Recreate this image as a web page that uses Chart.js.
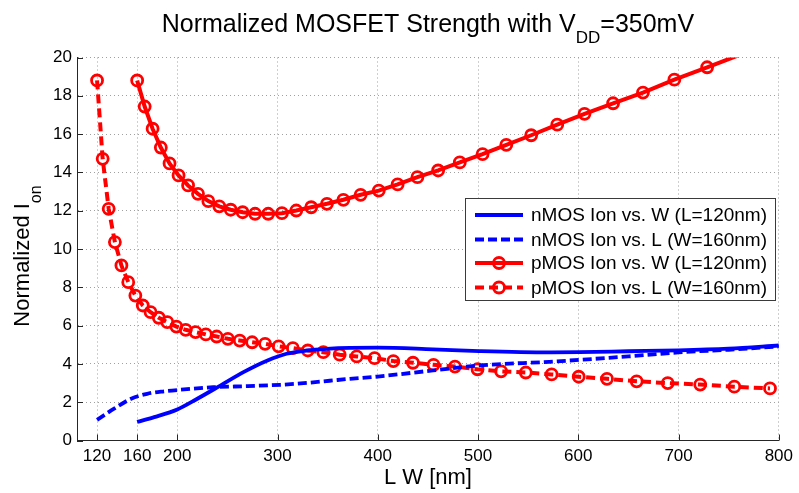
<!DOCTYPE html>
<html><head><meta charset="utf-8">
<script src="https://cdn.jsdelivr.net/npm/chart.js@4/dist/chart.umd.min.js"></script>
<style>html,body{margin:0;padding:0;background:#fff;overflow:hidden}#wrap{width:799px;height:493px;position:relative}</style>
</head><body><div id="wrap"><canvas id="c"></canvas></div>
<script>
// ---- data ----
const xTickValues = [120, 160, 200, 300, 400, 500, 600, 700, 800];
const yRange = [0, 20];

// pMOS Ion vs. W (L=120nm)
const pmosW_x = [160, 167.5, 175.4, 183.6, 192.3, 201.3, 210.8, 220.7, 231.0, 241.9, 253.3, 265.2, 277.6, 290.7, 304.4, 318.7, 333.6, 349.3, 365.7, 382.9, 401.0, 419.8, 439.5, 460.2, 481.8, 504.5, 528.2, 553.0, 579.0, 606.2, 634.7, 664.5, 695.8, 728.5, 762.7, 798.6];
const pmosW_y = [18.80, 17.44, 16.28, 15.30, 14.47, 13.84, 13.32, 12.88, 12.50, 12.23, 12.05, 11.92, 11.84, 11.84, 11.87, 12.01, 12.18, 12.36, 12.57, 12.83, 13.05, 13.37, 13.75, 14.10, 14.52, 14.95, 15.44, 15.94, 16.49, 17.06, 17.61, 18.17, 18.84, 19.49, 20.17, 20.88];

// pMOS Ion vs. L (W=160nm)
const pmosL_x = [120, 125.6, 131.6, 137.8, 144.3, 151.1, 158.2, 165.6, 173.4, 181.6, 190.1, 199.1, 208.4, 218.2, 228.5, 239.3, 250.5, 262.3, 274.7, 287.6, 301.1, 315.3, 330.2, 345.7, 362.0, 379.0, 396.8, 415.5, 435.1, 455.6, 477.0, 499.5, 523.0, 547.6, 573.4, 600.4, 628.6, 658.2, 689.2, 721.6, 755.6, 791.2];
const pmosL_y = [18.80, 14.71, 12.10, 10.36, 9.14, 8.27, 7.57, 7.05, 6.70, 6.41, 6.18, 5.95, 5.78, 5.66, 5.54, 5.43, 5.31, 5.22, 5.13, 5.05, 4.92, 4.82, 4.70, 4.61, 4.48, 4.39, 4.30, 4.15, 4.06, 3.95, 3.86, 3.72, 3.61, 3.55, 3.45, 3.33, 3.22, 3.09, 3.00, 2.92, 2.81, 2.72];

// nMOS Ion vs. W (L=120nm)
const nmosW_x = [160, 177, 200, 220, 243, 266, 290, 309, 329, 349, 372, 400, 455, 501, 571, 601, 650, 700, 750, 800];
const nmosW_y = [0.97, 1.22, 1.62, 2.18, 2.87, 3.57, 4.18, 4.53, 4.70, 4.79, 4.84, 4.85, 4.76, 4.67, 4.60, 4.61, 4.66, 4.71, 4.80, 4.96];

// nMOS Ion vs. L (W=160nm)
const nmosL_x = [120, 137, 154, 170, 187, 203, 236, 270, 303, 323, 352, 372, 400, 455, 501, 571, 601, 650, 700, 750, 800];
const nmosL_y = [1.08, 1.66, 2.18, 2.44, 2.57, 2.65, 2.78, 2.84, 2.91, 2.98, 3.12, 3.22, 3.34, 3.66, 3.92, 4.11, 4.21, 4.39, 4.60, 4.74, 4.91];

const seriesNames = ['nMOS Ion vs. W (L=120nm)', 'nMOS Ion vs. L (W=160nm)', 'pMOS Ion vs. W (L=120nm)', 'pMOS Ion vs. L (W=160nm)'];

// ---- chart ----
const FONT = '"Liberation Sans", Arial, Helvetica, sans-serif';
const pts = (xs, ys) => xs.map((x, i) => ({x: x, y: ys[i]}));
const BLUE = '#0000ff', RED = '#ff0000';
const radiusIn = ctx => (ctx.raw && ctx.raw.y <= yRange[1]) ? 5.5 : 0;

const datasets = [
  {label: seriesNames[0], data: pts(nmosW_x, nmosW_y), borderColor: BLUE, borderWidth: 3.8, pointRadius: 0, cubicInterpolationMode: 'monotone', dash: []},
  {label: seriesNames[1], data: pts(nmosL_x, nmosL_y), borderColor: BLUE, borderWidth: 3.8, pointRadius: 0, borderDash: [9, 4], cubicInterpolationMode: 'monotone', dash: [9, 4]},
  {label: seriesNames[2], data: pts(pmosW_x, pmosW_y), borderColor: RED, borderWidth: 4, pointRadius: radiusIn, pointBorderWidth: 2.8, pointBorderColor: RED, pointBackgroundColor: 'rgba(0,0,0,0)', marker: true, dash: []},
  {label: seriesNames[3], data: pts(pmosL_x, pmosL_y), borderColor: RED, borderWidth: 4, pointRadius: radiusIn, pointBorderWidth: 2.8, pointBorderColor: RED, pointBackgroundColor: 'rgba(0,0,0,0)', borderDash: [9, 5], marker: true, dash: [9, 5]}
];
datasets.forEach(d => { d.showLine = true; d.fill = false; d.pointHoverRadius = 0; });

const AXIS = '#262626';

const decor = {
  id: 'decor',
  afterDraw(chart) {
    const ctx = chart.ctx, ca = chart.chartArea;
    const xs = chart.scales.x, ys = chart.scales.y;
    ctx.save();
    // inward tick marks
    ctx.strokeStyle = AXIS; ctx.lineWidth = 1;
    ctx.beginPath();
    ys.ticks.forEach(t => { const y = Math.round(ys.getPixelForValue(t.value)) + 0.5; ctx.moveTo(ca.left, y); ctx.lineTo(ca.left + 6, y); });
    xs.ticks.forEach(t => { const x = Math.round(xs.getPixelForValue(t.value)) + 0.5; ctx.moveTo(x, ca.bottom); ctx.lineTo(x, ca.bottom - 6); });
    ctx.stroke();

    const cx = (ca.left + ca.right) / 2;
    ctx.fillStyle = '#000';
    ctx.textBaseline = 'alphabetic';
    // title with subscript
    const tParts = [['Normalized MOSFET Strength with V', 25, 0], ['DD', 17, 11.5], ['=350mV', 25, 0]];
    let tw = 0;
    tParts.forEach(p => { ctx.font = p[1] + 'px ' + FONT; p.push(ctx.measureText(p[0]).width); tw += p[3]; });
    let x = cx - tw / 2;
    tParts.forEach(p => { ctx.font = p[1] + 'px ' + FONT; ctx.textAlign = 'left'; ctx.fillText(p[0], x, 31.5 + p[2]); x += p[3]; });

    // x axis label
    ctx.font = '22px ' + FONT; ctx.textAlign = 'center';
    ctx.fillText('L W [nm]', cx, 484);

    // y axis label (rotated, with subscript)
    const yParts = [['Normalized I', 22, 0], ['on', 16, 12]];
    let yw = 0;
    yParts.forEach(p => { ctx.font = p[1] + 'px ' + FONT; p.push(ctx.measureText(p[0]).width); yw += p[3]; });
    ctx.save();
    ctx.translate(28.5, 256);
    ctx.rotate(-Math.PI / 2);
    ctx.textAlign = 'left';
    let yx = -yw / 2;
    yParts.forEach(p => { ctx.font = p[1] + 'px ' + FONT; ctx.fillText(p[0], yx, p[2]); yx += p[3]; });
    ctx.restore();

    // legend box
    const lx = 465.5, ly = 198.5, lw = 310, lh = 102;
    ctx.fillStyle = '#fff'; ctx.fillRect(lx, ly, lw, lh);
    ctx.strokeStyle = '#3a3a3a'; ctx.lineWidth = 1; ctx.strokeRect(lx, ly, lw, lh);
    const rows = [215, 239.5, 263, 287.5];
    chart.data.datasets.forEach((d, i) => {
      const y = rows[i];
      ctx.save();
      ctx.strokeStyle = d.borderColor; ctx.lineWidth = d.borderWidth;
      ctx.setLineDash(d.dash);
      ctx.beginPath(); ctx.moveTo(475, y); ctx.lineTo(523, y); ctx.stroke();
      ctx.setLineDash([]);
      if (d.marker) {
        ctx.lineWidth = 2.8;
        ctx.beginPath(); ctx.arc(499, y, 5.5, 0, Math.PI * 2); ctx.stroke();
      }
      ctx.restore();
      ctx.fillStyle = '#000'; ctx.font = '19px ' + FONT; ctx.textAlign = 'left'; ctx.textBaseline = 'middle';
      ctx.fillText(d.label, 531, y + 1);
    });
    ctx.restore();
  }
};

new Chart(document.getElementById('c'), {
  type: 'scatter',
  data: {datasets: datasets},
  options: {
    responsive: true,
    maintainAspectRatio: false,
    animation: false,
    events: [],
    layout: {padding: {left: 0, top: 57.5, right: 18.5, bottom: 0}},
    plugins: {legend: {display: false}, title: {display: false}, tooltip: {enabled: false}},
    scales: {
      x: {
        type: 'linear', min: 100, max: 800,
        afterBuildTicks: s => { s.ticks = xTickValues.map(v => ({value: v})); },
        afterFit: s => { s.height = 52.5; },
        grid: {color: '#a0a0a0', lineWidth: 1, drawTicks: false},
        border: {display: true, color: AXIS, width: 1, dash: [1, 3]},
        ticks: {font: {family: FONT, size: 17}, color: '#000', padding: 6, maxRotation: 0, autoSkip: false, callback: v => String(v)}
      },
      y: {
        type: 'linear', min: yRange[0], max: yRange[1],
        afterFit: s => { s.width = 77; },
        grid: {color: '#a0a0a0', lineWidth: 1, drawTicks: false},
        border: {display: true, color: AXIS, width: 1, dash: [1, 3]},
        ticks: {stepSize: 2, font: {family: FONT, size: 17}, color: '#000', padding: 5, callback: v => String(v)}
      }
    }
  },
  plugins: [decor]
});
</script>
</body></html>
